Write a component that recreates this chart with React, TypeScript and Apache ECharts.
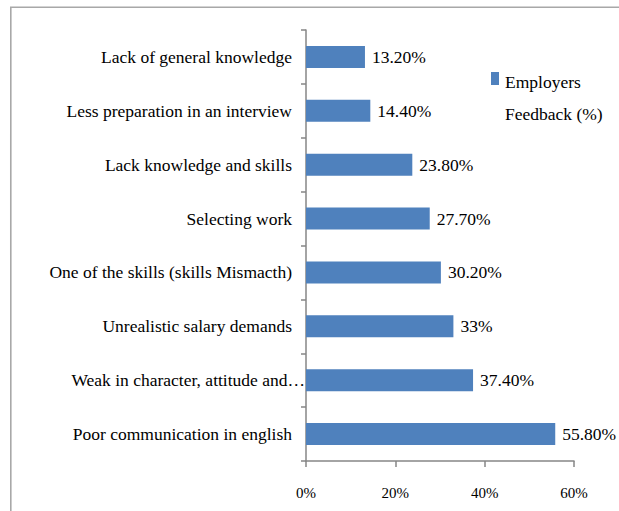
import React, { useEffect, useRef } from "react";
import * as echarts from "echarts";

const categories = [
  "Poor communication in english",
  "Weak in character, attitude and…",
  "Unrealistic salary demands",
  "One of the skills (skills Mismacth)",
  "Selecting work",
  "Lack knowledge and skills",
  "Less preparation in an interview",
  "Lack of general knowledge",
];
const values = [55.8, 37.4, 33, 30.2, 27.7, 23.8, 14.4, 13.2];
const valueLabels = ["55.80%", "37.40%", "33%", "30.20%", "27.70%", "23.80%", "14.40%", "13.20%"];
const truncatedCategory = "Weak in character, attitude and…";
const seriesName = "Employers Feedback (%)";
const legendLines = ["Employers", "Feedback (%)"];

const FONT = "Liberation Serif";

export default function App() {
  const ref = useRef<HTMLDivElement>(null);
  useEffect(() => {
    document.body.style.margin = "0";
    const chart = echarts.init(ref.current!, null, { renderer: "svg" });
    chart.setOption({
      animation: false,
      backgroundColor: "#ffffff",
      textStyle: { fontFamily: FONT, color: "#000" },
      graphic: [
        {
          type: "rect",
          shape: { x: 10.8, y: 7.3, width: 800, height: 700 },
          style: { fill: "none", stroke: "#a8a8a8", lineWidth: 1.6 },
          silent: true,
        },
      ],
      grid: { left: 306, right: 45, top: 30, bottom: 50, containLabel: false },
      legend: {
        left: 491,
        top: 66,
        padding: 0,
        itemWidth: 8,
        itemHeight: 52,
        itemGap: 6,
        icon: "path://M0,0L8,0L8,13L0,13Z M0,52L0.01,52Z",
        data: [{ name: seriesName }],
        formatter: () => legendLines.join("\n"),
        textStyle: { fontFamily: FONT, fontSize: 17.5, color: "#000", lineHeight: 32, padding: [0, 0, 0, 1] },
      },
      xAxis: {
        type: "value",
        min: 0,
        max: 60,
        interval: 20,
        splitLine: { show: false },
        axisLine: { show: true, lineStyle: { color: "#868686", width: 1.5 } },
        axisTick: { show: true, length: 6, lineStyle: { color: "#868686", width: 1.5 } },
        axisLabel: { fontFamily: FONT, fontSize: 15, color: "#000", margin: 24, formatter: "{value}%" },
      },
      yAxis: {
        type: "category",
        data: categories,
        axisLine: { show: true, lineStyle: { color: "#868686", width: 1.5 } },
        axisTick: { show: true, length: 5, alignWithLabel: false, lineStyle: { color: "#868686", width: 1.5 } },
        axisLabel: {
          fontFamily: FONT,
          fontSize: 17.5,
          color: "#000",
          margin: 0,
          formatter: (v: string) => (v === truncatedCategory ? `{w|${v}}` : `{n|${v}}`),
          rich: {
            n: { fontFamily: FONT, fontSize: 17.5, color: "#000", padding: [0, 14, 0, 0] },
            w: { fontFamily: FONT, fontSize: 17.5, color: "#000", padding: [0, 1, 0, 0] },
          },
        },
      },
      series: [
        {
          name: seriesName,
          type: "bar",
          data: values,
          barWidth: 22,
          itemStyle: { color: "#4f81bd" },
          label: {
            show: true,
            position: "right",
            distance: 7,
            fontFamily: FONT,
            fontSize: 17.5,
            color: "#000",
            formatter: (p: any) => valueLabels[p.dataIndex],
          },
        },
      ],
    });
    return () => chart.dispose();
  }, []);
  return <div ref={ref} style={{ width: 619, height: 511 }} />;
}
